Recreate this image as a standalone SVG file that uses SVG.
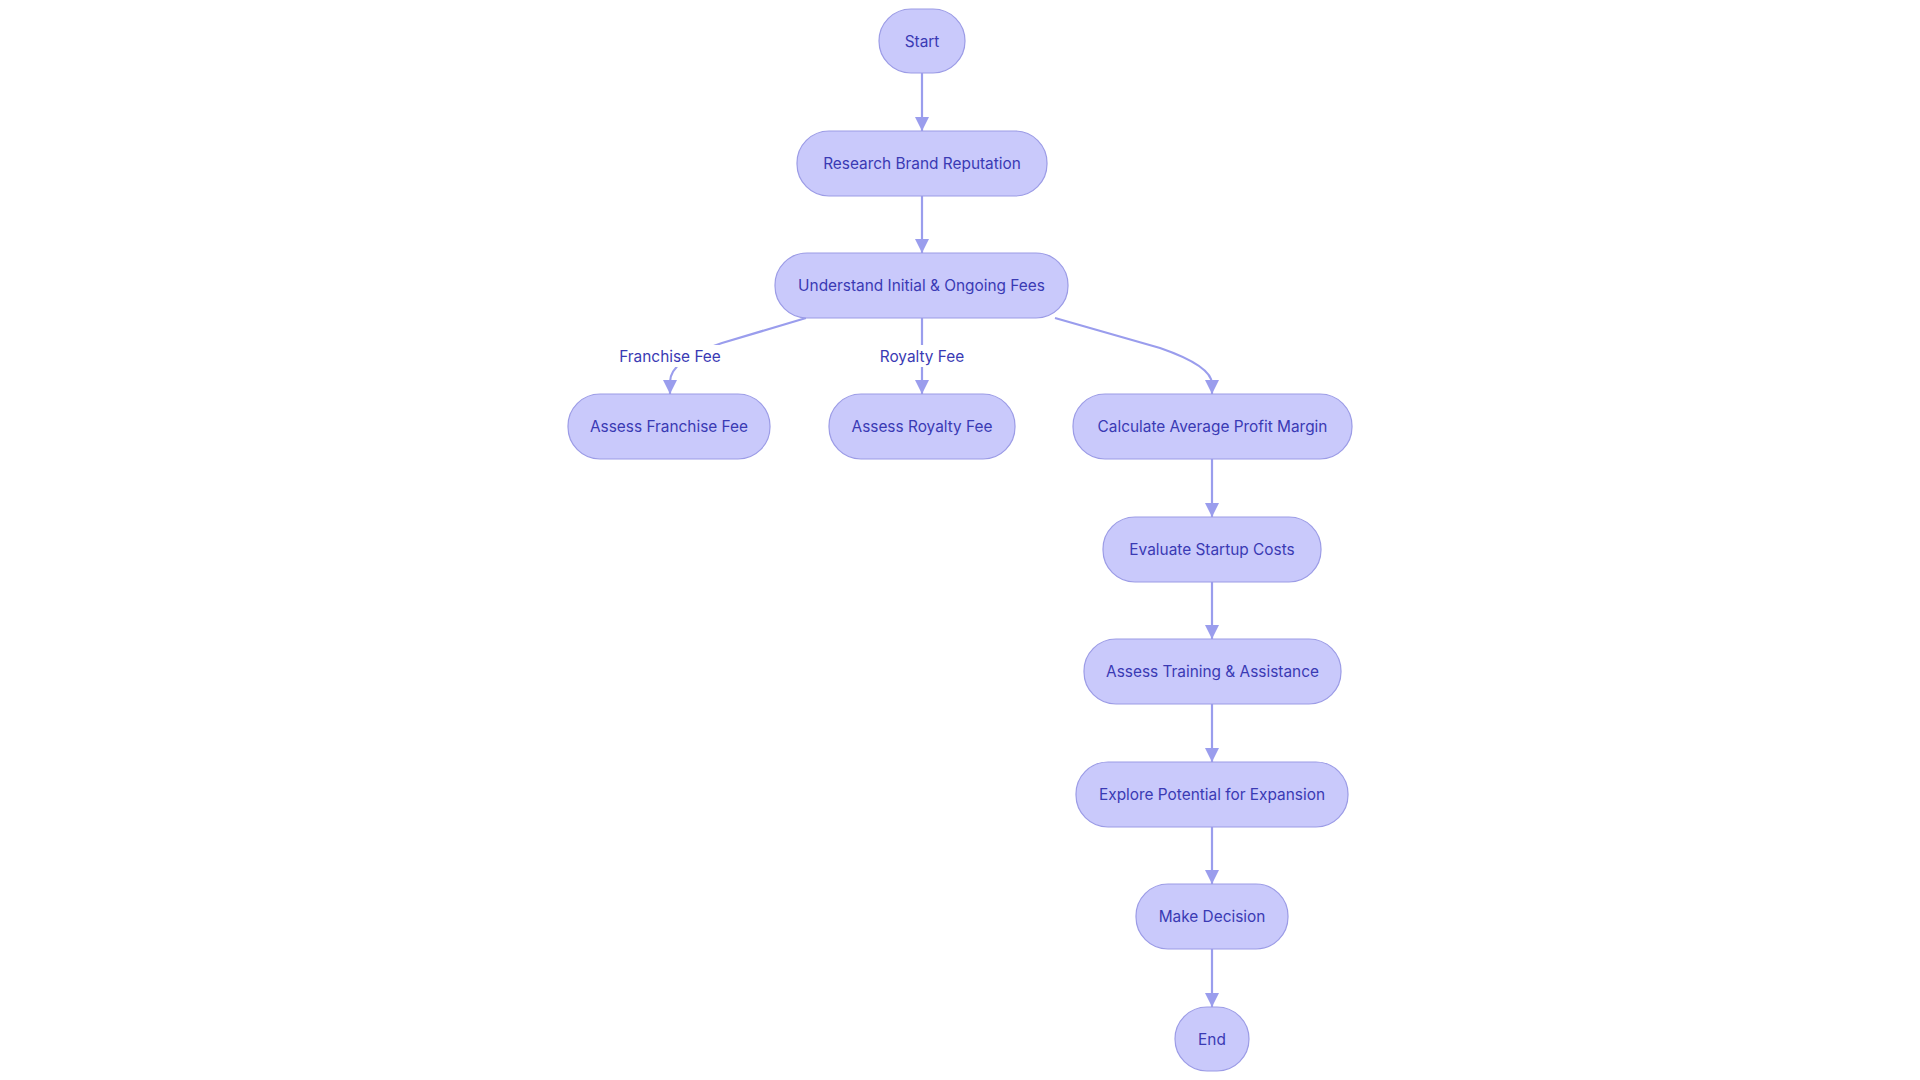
<svg xmlns="http://www.w3.org/2000/svg" width="1920" height="1080" viewBox="0 0 1920 1080">
<defs>
<style>
.node rect{fill:#c9c9fb;stroke:#9c9ce6;stroke-width:1.2}
.node text,.lbl text{font-family:Inter,"Noto Sans",sans-serif;font-size:15.4px;fill:#3a3ab4;text-anchor:middle;dominant-baseline:central}
.edge{fill:none;stroke:#9a9ded;stroke-width:2.2}
.lbl rect{fill:#ffffff}
</style>
<marker id="arr" viewBox="0 0 10 10" refX="10" refY="5" markerWidth="14" markerHeight="14" markerUnits="userSpaceOnUse" orient="auto">
<path d="M0,0 L10,5 L0,10 z" fill="#9a9ded"/>
</marker>
</defs>
<rect width="1920" height="1080" fill="#ffffff"/>
<g id="connectors">
<path class="edge" d="M922,73 L922,131" marker-end="url(#arr)"/>
<path class="edge" d="M922,196 L922,253" marker-end="url(#arr)"/>
<path class="edge" d="M806,318 L722,343 Q670,360 670,382 L670,394" marker-end="url(#arr)"/>
<path class="edge" d="M922,318 L922,394" marker-end="url(#arr)"/>
<path class="edge" d="M1055,318 L1160,348 Q1212,366 1212,384 L1212,394" marker-end="url(#arr)"/>
<path class="edge" d="M1212,459 L1212,517" marker-end="url(#arr)"/>
<path class="edge" d="M1212,582 L1212,639" marker-end="url(#arr)"/>
<path class="edge" d="M1212,704 L1212,762" marker-end="url(#arr)"/>
<path class="edge" d="M1212,827 L1212,884" marker-end="url(#arr)"/>
<path class="edge" d="M1212,949 L1212,1007" marker-end="url(#arr)"/>
<g class="lbl"><rect x="619" y="345" width="102" height="22"/><text x="670" y="356">Franchise Fee</text></g>
<g class="lbl"><rect x="879" y="345" width="86" height="22"/><text x="922" y="356">Royalty Fee</text></g>
</g>
<g id="start" class="node"><rect x="879" y="9" width="86" height="64" rx="32"/><text x="922" y="41">Start</text></g>
<g id="research" class="node"><rect x="797" y="131" width="250" height="65" rx="32"/><text x="922" y="163.5">Research Brand Reputation</text></g>
<g id="understand" class="node"><rect x="775" y="253" width="293" height="65" rx="32"/><text x="921.5" y="285.5">Understand Initial &amp; Ongoing Fees</text></g>
<g id="franchise" class="node"><rect x="568" y="394" width="202" height="65" rx="32"/><text x="669" y="426.5">Assess Franchise Fee</text></g>
<g id="royalty" class="node"><rect x="829" y="394" width="186" height="65" rx="32"/><text x="922" y="426.5">Assess Royalty Fee</text></g>
<g id="profit" class="node"><rect x="1073" y="394" width="279" height="65" rx="32"/><text x="1212.5" y="426.5">Calculate Average Profit Margin</text></g>
<g id="startup" class="node"><rect x="1103" y="517" width="218" height="65" rx="32"/><text x="1212" y="549.5">Evaluate Startup Costs</text></g>
<g id="training" class="node"><rect x="1084" y="639" width="257" height="65" rx="32"/><text x="1212.5" y="671.5">Assess Training &amp; Assistance</text></g>
<g id="expansion" class="node"><rect x="1076" y="762" width="272" height="65" rx="32"/><text x="1212" y="794.5">Explore Potential for Expansion</text></g>
<g id="decision" class="node"><rect x="1136" y="884" width="152" height="65" rx="32"/><text x="1212" y="916.5">Make Decision</text></g>
<g id="end" class="node"><rect x="1175" y="1007" width="74" height="64" rx="32"/><text x="1212" y="1039">End</text></g>
</svg>
